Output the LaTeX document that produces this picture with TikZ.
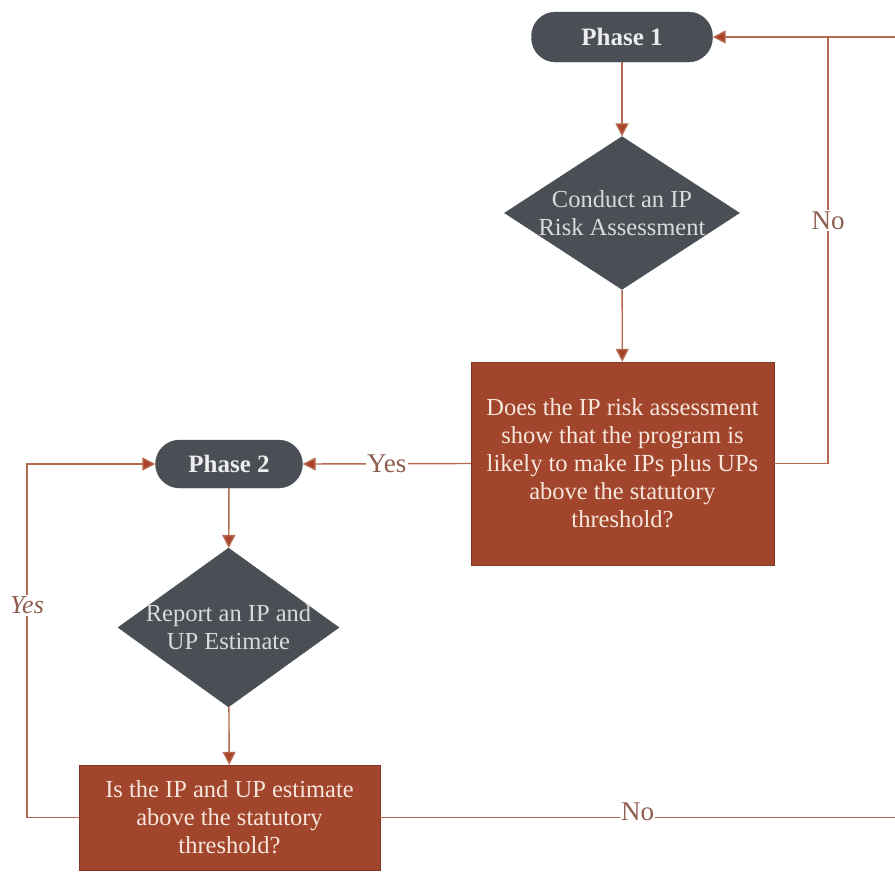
\documentclass[tikz,border=0pt]{standalone}
\usepackage{fontspec}
\setmainfont{Liberation Serif}
\usetikzlibrary{shapes.geometric,arrows.meta}
\definecolor{slate}{HTML}{4A4F56}
\definecolor{rust}{HTML}{A1452C}
\definecolor{wire}{HTML}{B5694F}
\definecolor{tip}{HTML}{A8432A}
\definecolor{lbl}{HTML}{8E5E50}
\definecolor{paper}{HTML}{F6E6DC}
\definecolor{mist}{HTML}{DADADA}
\tikzset{
  pill/.style={draw=slate, fill=slate, rounded corners=24pt, text=white!93!black,
    font=\fontsize{25}{28}\selectfont\bfseries, inner sep=0pt},
  decision/.style={diamond, draw=slate, fill=slate, inner sep=0pt},
  dtext/.style={text=mist, align=center, inner sep=0pt, font=\fontsize{24.5}{28}\selectfont},
  query/.style={rectangle, draw=rust!80!black, fill=rust, text=paper, align=center,
    inner sep=0pt, font=\fontsize{24.5}{28}\selectfont},
  flow/.style={draw=wire, line width=1.4pt},
  go/.style={flow, -{Triangle[length=13pt,width=13pt,fill=tip]}},
  tag/.style={text=lbl, fill=white, inner sep=1.5pt, font=\fontsize{27}{30}\selectfont},
}
\begin{document}
\begin{tikzpicture}[x=1pt, y=-1pt]
\useasboundingbox (0,0) rectangle (895,873);
% nodes
\node[pill, minimum width=181pt, minimum height=50pt] (p1) at (622,37) {Phase 1};
\node[decision, minimum width=235pt, minimum height=153pt] (d1) at (622,213) {};
\node[dtext] at (d1) {Conduct an IP\\Risk Assessment};
\node[query, minimum width=303pt, minimum height=203pt] (q1) at (622.5,463.5)
  {Does the IP risk assessment\\show that the program is\\likely to make IPs plus UPs\\above the statutory\\threshold?};
\node[pill, minimum width=147pt, minimum height=48pt] (p2) at (229,464) {Phase 2};
\node[decision, minimum width=221pt, minimum height=159pt] (d2) at (228.5,627.5) {};
\node[dtext] at (d2) {Report an IP and\\UP Estimate};
\node[query, minimum width=301pt, minimum height=105pt] (q2) at (229.5,817.5)
  {Is the IP and UP estimate\\above the statutory\\threshold?};
% loop corners and open ends
\coordinate (r1) at (828,463.5);
\coordinate (r2) at (828,37);
\coordinate (edgeTop) at (895,37);
\coordinate (edgeBot) at (895,817.5);
\coordinate (l1) at (27,817.5);
\coordinate (l2) at (27,464);
% main flow
\draw[go] (p1) -- (d1);
\draw[go] (d1) -- (q1);
\draw[go] (p2) -- (d2);
\draw[go] (d2) -- (q2);
% branches
\draw[go] (q1.west) -- node[tag, pos=0.5] {Yes} (p2.east);
\draw[flow] (q1.east) -- (r1) -- node[tag, pos=0.57] {No} (r2);
\draw[go] (edgeTop) -- (p1.east);
\draw[go] (q2.west) -- (l1) -- node[tag, pos=0.6, font=\fontsize{26}{30}\selectfont\itshape] {Yes} (l2) -- (p2.west);
\draw[flow] (q2.east) -- node[tag, pos=0.5, yshift=6pt, inner sep=1pt] {No} (edgeBot);
\end{tikzpicture}
\end{document}
